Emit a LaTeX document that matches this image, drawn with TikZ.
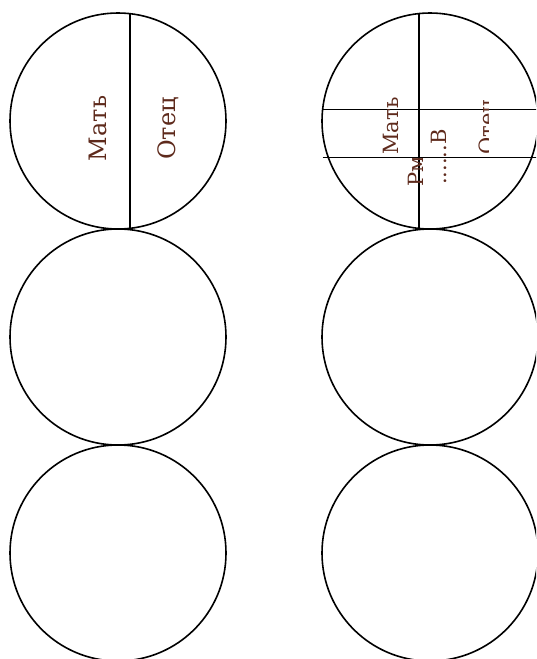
\documentclass[tikz,border=0pt]{standalone}
\usepackage{fontspec}
\setmainfont{DejaVu Serif}
\definecolor{txtbrown}{RGB}{94,42,28}
\tikzset{
  ring/.style={draw=black, line width=1.6pt},
  divider/.style={draw=black, line width=1.6pt},
  bigtxt/.style={text=txtbrown, font=\fontsize{24}{24}\selectfont, inner sep=0pt, rotate=90},
  smalltxt/.style={text=txtbrown, font=\fontsize{21}{21}\selectfont, inner sep=0pt, rotate=90}
}
\begin{document}
\begin{tikzpicture}[x=1pt,y=-1pt]
\useasboundingbox (0,0) rectangle (536,659);
\clip (0,0) rectangle (536,659);
% left column
\draw[ring] (118,121) circle (108);
\draw[ring] (118,337) circle (108);
\draw[ring] (118,553) circle (108);
\coordinate (lt) at (130,13);
\coordinate (lb) at (130,229);
\draw[divider] (lt) -- (lb);
\node[bigtxt, anchor=base] (m1) at (106.5,128.5) {Мать};
\node[bigtxt, anchor=base] (o1) at (175,128.5) {Отец};
% right column
\draw[ring] (430,121) circle (108);
\draw[ring] (430,337) circle (108);
\draw[ring] (430,553) circle (108);
\coordinate (rt) at (419,13);
\coordinate (rb) at (419,229);
\draw[divider] (rt) -- (rb);
\coordinate (h1a) at (322.5,109.5);
\coordinate (h1b) at (540,109.5);
\coordinate (h2a) at (322.5,157.5);
\coordinate (h2b) at (540,157.5);
\draw[divider] (h1a) -- (h1b);
\draw[divider] (h2a) -- (h2b);
\node[smalltxt, anchor=base] (m2) at (398,126) {Мать};
\begin{scope}
\clip (300,158.5) rectangle (436,200);
\node[smalltxt, anchor=base west] (p2) at (423,187) {Рмать};
\end{scope}
\node[smalltxt, anchor=base west] (b2) at (446.5,185) {......В};
\begin{scope}
\clip (460,90) rectangle (488,160);
\node[smalltxt, anchor=base west] (o2) at (494,155) {Отец};
\end{scope}
\end{tikzpicture}
\end{document}
